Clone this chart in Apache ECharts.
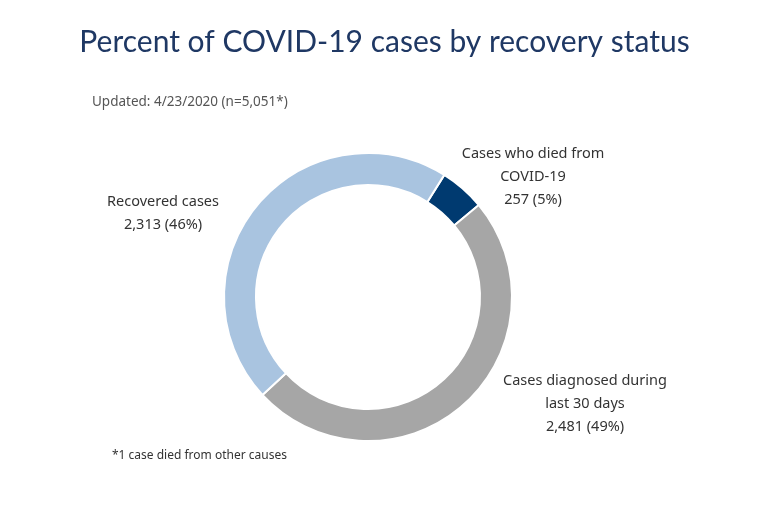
<!DOCTYPE html>
<html><head><meta charset="utf-8">
<script src="https://cdn.jsdelivr.net/npm/echarts@6/dist/echarts.min.js"></script>
<style>body{margin:0;background:#fff}#chart1{width:769px;height:515px}</style>
</head><body><div id="chart1"></div>
<script>
var myChart = echarts.init(document.getElementById("chart1"));
var data = [
    { value: 257, name: "Cases who died from\nCOVID-19\n257 (5%)", itemStyle: { color: "#003a70" } },
    { value: 2481, name: "Cases diagnosed during\nlast 30 days\n2,481 (49%)", itemStyle: { color: "#a6a6a6" } },
    { value: 2313, name: "Recovered cases\n2,313 (46%)", itemStyle: { color: "#a9c4e0" } }
];
var labelPos = [[533, 177], [585, 404], [163, 213]];
option = {
    backgroundColor: "#fff",
    title: {
        text: "Percent of COVID-19 cases by recovery status",
        left: "center", top: 22,
        textStyle: { fontFamily: "Lato", fontWeight: "normal", fontSize: 30, color: "#1f3864" }
    },
    graphic: [
        { type: "text", left: 92, top: 95, style: { text: "Updated: 4/23/2020 (n=5,051*)", fontFamily: "Noto Sans", fontSize: 13.5, fill: "#555" } },
        { type: "text", left: 112, top: 450, style: { text: "*1 case died from other causes", fontFamily: "Noto Sans", fontSize: 12, fill: "#333" } }
    ],
    series: {
        type: "pie",
        center: [368, 297],
        radius: [112, 144],
        startAngle: 58,
        clockwise: true,
        silent: true,
        itemStyle: { borderColor: "#fff", borderWidth: 2 },
        label: {
            show: true, formatter: "{b}", align: "center",
            fontFamily: "Noto Sans", fontSize: 14.5, lineHeight: 23, color: "#333"
        },
        labelLine: { show: false },
        labelLayout: function (p) {
            var xy = labelPos[p.dataIndex];
            return { x: xy[0], y: xy[1], align: "center", verticalAlign: "middle" };
        },
        data: data
    }
};
myChart.setOption(option);
</script></body></html>
